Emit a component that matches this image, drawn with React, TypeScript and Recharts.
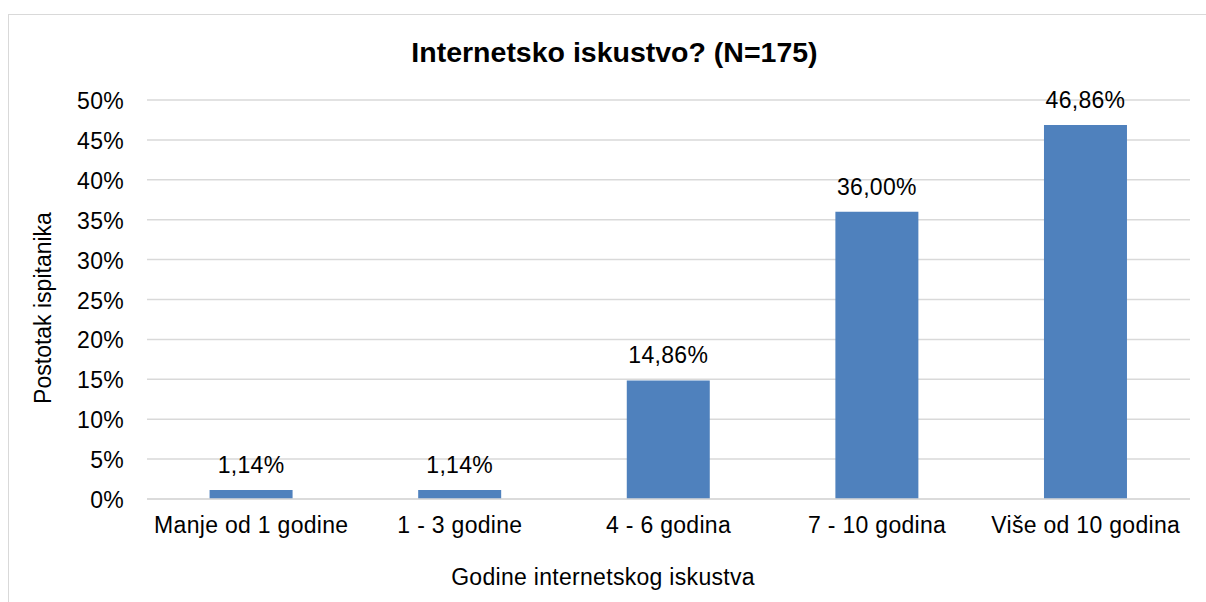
import React from 'react';
import { BarChart, Bar, XAxis, YAxis, CartesianGrid, LabelList } from 'recharts';

const categories = ['Manje od 1 godine', '1 - 3 godine', '4 - 6 godina', '7 - 10 godina', 'Više od 10 godina'];
const percentages = [1.14, 1.14, 14.86, 36.0, 46.86];
const yTicks = [0, 5, 10, 15, 20, 25, 30, 35, 40, 45, 50];

const chartTitle = 'Internetsko iskustvo? (N=175)';
const xTitle = 'Godine internetskog iskustva';
const yTitle = 'Postotak ispitanika';

const data = categories.map((c, i) => ({ name: c, value: percentages[i] }));

const FONT = '"Liberation Sans", Arial, sans-serif';
const FS = 23;
const LS = 0.3;

const XTick = (props: any) => {
  const { x, y, payload } = props;
  return (
    <text x={x} y={y + 26} textAnchor="middle" fontFamily={FONT} fontSize={FS} letterSpacing={LS} fill="#000">
      {payload.value}
    </text>
  );
};

const YTick = (props: any) => {
  const { y, payload } = props;
  return (
    <text x={124} y={y + 9} textAnchor="end" fontFamily={FONT} fontSize={FS} letterSpacing={LS} fill="#000">
      {`${payload.value}%`}
    </text>
  );
};

const ValueLabel = (props: any) => {
  const { x, y, width, value } = props;
  return (
    <text x={x + width / 2} y={y - 17} textAnchor="middle" fontFamily={FONT} fontSize={FS} letterSpacing={LS} fill="#000">
      {`${Number(value).toFixed(2).replace('.', ',')}%`}
    </text>
  );
};

export default function App() {
  return (
    <div style={{ position: 'relative', width: 1206, height: 602, overflow: 'hidden', background: '#fff' }}>
      <style>{`body{margin:0;overflow:hidden;background:#fff}`}</style>
      <div
        style={{
          position: 'absolute',
          left: 8,
          top: 14,
          width: 1300,
          height: 700,
          border: '1px solid #d9d9d9',
          boxSizing: 'border-box',
        }}
      />
      <div style={{ position: 'absolute', left: 0, top: 0 }}>
        <BarChart width={1206} height={602} data={data} margin={{ top: 100, right: 16, left: 0, bottom: 0 }} barCategoryGap="30%">
          <CartesianGrid vertical={false} stroke="#d9d9d9" strokeWidth={1.5} />
          <XAxis dataKey="name" height={103} axisLine={{ stroke: '#d9d9d9', strokeWidth: 1.5 }} tickLine={false} tick={<XTick />} interval={0} />
          <YAxis width={147} domain={[0, 50]} ticks={yTicks} axisLine={false} tickLine={false} tick={<YTick />} />
          <Bar dataKey="value" fill="#4f81bd" isAnimationActive={false}>
            <LabelList dataKey="value" content={<ValueLabel />} />
          </Bar>
        </BarChart>
      </div>
      <svg width={1206} height={602} style={{ position: 'absolute', left: 0, top: 0, pointerEvents: 'none' }}>
        <text x={614.5} y={62} textAnchor="middle" fontFamily={FONT} fontSize={28.5} fontWeight="bold" fill="#000">
          {chartTitle}
        </text>
        <text x={603} y={585} textAnchor="middle" fontFamily={FONT} fontSize={FS} letterSpacing={LS} fill="#000">
          {xTitle}
        </text>
        <text
          x={0}
          y={0}
          transform="translate(51,308) rotate(-90)"
          textAnchor="middle"
          fontFamily={FONT}
          fontSize={FS}
          fill="#000"
        >
          {yTitle}
        </text>
      </svg>
    </div>
  );
}
